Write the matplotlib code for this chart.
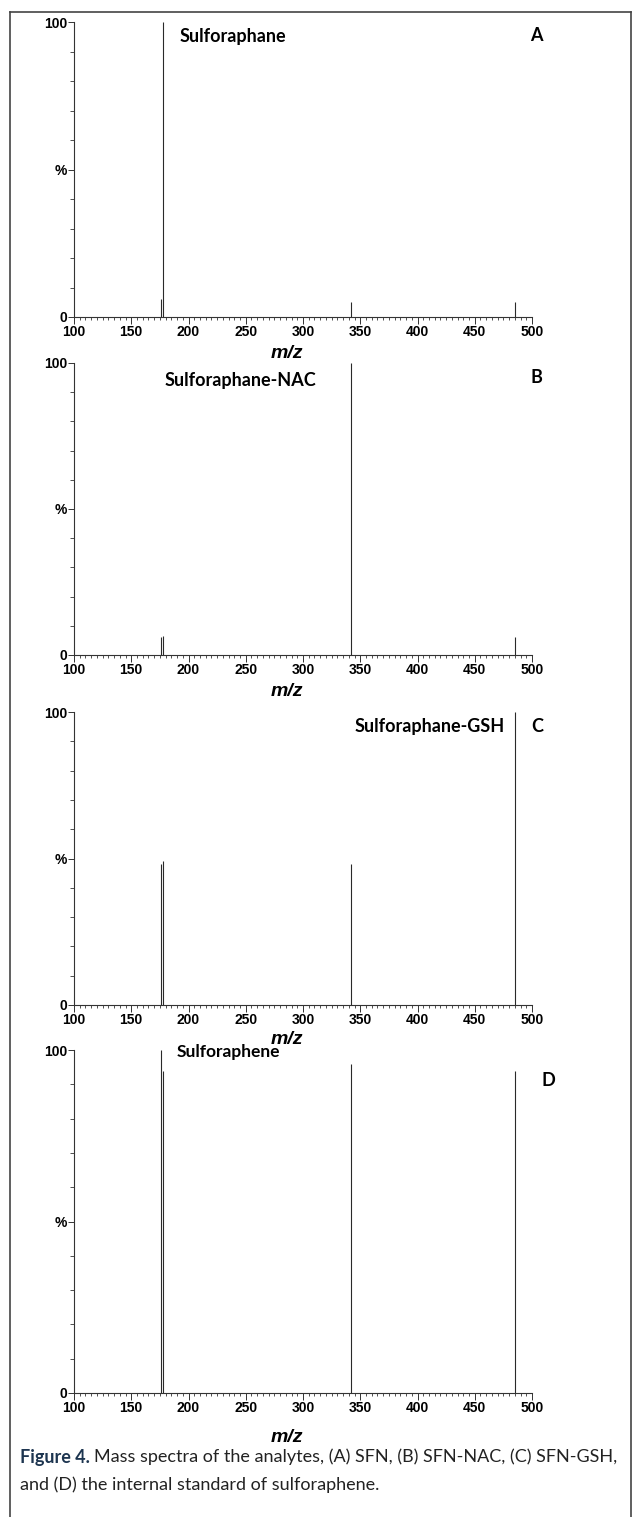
import matplotlib.pyplot as plt
from matplotlib.lines import Line2D
from matplotlib.ticker import MultipleLocator

# peak positions (m/z) and relative intensities (%) for each panel
mz_a = [176, 178, 342, 485]
int_a = [6, 100, 5, 5]
mz_b = [176, 178, 342, 485]
int_b = [6, 6.5, 100, 6]
mz_c = [176, 178, 342, 485]
int_c = [48, 49, 48, 100]
mz_d = [176, 178, 342, 485]
int_d = [100, 94, 96, 94]

names = ['Sulforaphane', 'Sulforaphane-NAC', 'Sulforaphane-GSH', 'Sulforaphene']
letters = ['A', 'B', 'C', 'D']

W, H = 633, 1517
fig = plt.figure(figsize=(W / 100, H / 100), dpi=100)

def rect(left, right, top, bottom):
    return [left / W, 1 - bottom / H, (right - left) / W, (bottom - top) / H]

# axes boxes in pixels: left, right, top(100%), bottom(0%)
boxes = [(74, 532, 22, 317), (74, 532, 363, 655), (74, 532, 712, 1005), (74, 532, 1050, 1393)]
# distance of the m/z label below the axis, pixels
xlab_off = [36, 36, 35, 45]

# label placement (data coords): name x, name y, ha, size, letter x, letter y
lab = [(192, 95, 'left', 13, 504, 95.5),
       (179, 94, 'left', 13, 504, 95),
       (476, 95, 'right', 13, 505, 95),
       (190, 99.5, 'left', 12.5, 514, 91)]

spectra = [(mz_a, int_a), (mz_b, int_b), (mz_c, int_c), (mz_d, int_d)]
txt_font = 'Lato'

for i, (mz, inten) in enumerate(spectra):
    l, r, t, b = boxes[i]
    ax = fig.add_axes(rect(l, r, t, b))
    ax.vlines(mz, 0, inten, color='#2a2a2a', lw=0.8)
    ax.set_xlim(100, 500)
    ax.set_ylim(0, 100)
    for s in ['top', 'right']:
        ax.spines[s].set_visible(False)
    for s in ['left', 'bottom']:
        ax.spines[s].set_linewidth(0.8)
        ax.spines[s].set_color('#333333')
    ax.set_xticks(range(100, 501, 50))
    ax.xaxis.set_minor_locator(MultipleLocator(5))
    ax.set_yticks([0, 50, 100])
    ax.set_yticklabels(['0', '%', '100'])
    ax.yaxis.set_minor_locator(MultipleLocator(10))
    ax.tick_params(axis='x', which='major', length=5, width=0.7, pad=1, color='#333333')
    ax.tick_params(axis='x', which='minor', length=2.5, width=0.6, color='#333333')
    ax.tick_params(axis='y', which='major', length=4, width=0.7, pad=1, color='#333333')
    ax.tick_params(axis='y', which='minor', length=3, width=0.6, color='#333333')
    for tl in ax.get_xticklabels() + ax.get_yticklabels():
        tl.set_fontfamily('Liberation Sans')
        tl.set_fontsize(10)
        tl.set_fontweight('bold')
    ax.set_xlabel('m/z', fontfamily='Liberation Sans', fontsize=14,
                  fontweight='bold', style='italic', va='center')
    ax.xaxis.set_label_coords(0.465, -xlab_off[i] / (b - t), transform=ax.transAxes)
    nx, ny, ha, sz, lx, ly = lab[i]
    ax.text(nx, ny, names[i], ha=ha, va='center', fontsize=sz, fontweight='bold',
            fontfamily=txt_font, clip_on=False)
    ax.text(lx, ly, letters[i], ha='center', va='center', fontsize=13, fontweight='bold',
            fontfamily=txt_font, clip_on=False)

# frame around the figure (bottom is open)
fig.add_artist(Line2D([10 / W, 10 / W], [0, 1 - 12 / H], color='#444444', lw=1.2))
fig.add_artist(Line2D([10 / W, 631 / W], [1 - 12 / H, 1 - 12 / H], color='#444444', lw=1.2))
fig.add_artist(Line2D([631 / W, 631 / W], [0, 1 - 12 / H], color='#444444', lw=1.2))

# caption
cap_size = 13
head = fig.text(20 / W, 1 - 1457 / H, 'Figure 4.', fontsize=cap_size, fontweight='bold',
                fontfamily=txt_font, color='#1d3550', va='center')
fig.canvas.draw()
ext = head.get_window_extent()
fig.text((ext.x1 + 4) / W, 1 - 1457 / H,
         'Mass spectra of the analytes, (A) SFN, (B) SFN-NAC, (C) SFN-GSH,',
         fontsize=cap_size, fontfamily=txt_font, color='#222222', va='center')
fig.text(20 / W, 1 - 1485 / H, 'and (D) the internal standard of sulforaphene.',
         fontsize=cap_size, fontfamily=txt_font, color='#222222', va='center')

fig.savefig('out.png', dpi=100)
